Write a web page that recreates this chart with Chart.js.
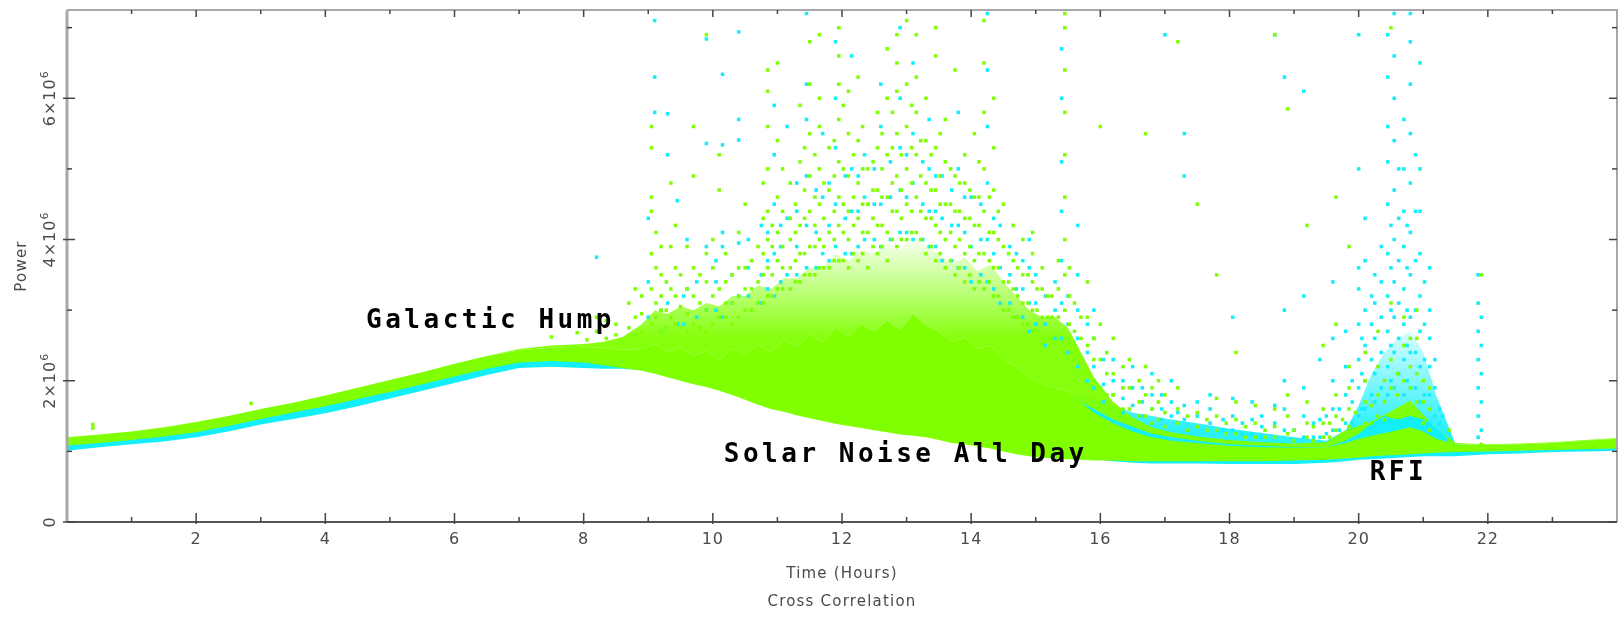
<!DOCTYPE html>
<html>
<head>
<meta charset="utf-8">
<script src="https://cdn.jsdelivr.net/npm/chart.js@4.4.1/dist/chart.umd.min.js"></script>
<style>
  body { margin: 0; background: #fff; }
  canvas { display: block; }
</style>
</head>
<body>
<canvas id="powerChart" width="1623" height="617"></canvas>
<script>
// Power values are in units of 10^6
const bandHours = [0, 0.5, 1, 1.5, 2, 2.5, 3, 3.5, 4, 4.5, 5, 5.5, 6, 6.5, 7, 7.5, 8, 8.3, 8.6, 8.9,
  9.1, 9.3, 9.5, 9.7, 9.9, 10.1, 10.3, 10.5, 10.7, 10.9, 11.1, 11.3, 11.5, 11.7, 11.9, 12.1, 12.3, 12.5, 12.7, 12.9,
  13.1, 13.3, 13.5, 13.7, 13.9, 14.1, 14.3, 14.5, 14.7, 14.9, 15.1, 15.3, 15.5, 15.7, 15.9, 16.2, 16.5, 16.8, 17.1, 17.5,
  18, 18.5, 19, 19.5, 19.8, 20, 20.2, 20.4, 20.6, 20.8, 21, 21.2, 21.5, 22, 22.5, 23, 23.5, 24];

const greenLow = [1.085, 1.12, 1.16, 1.21, 1.27, 1.36, 1.46, 1.55, 1.64, 1.74, 1.84, 1.95, 2.06, 2.17, 2.26, 2.28, 2.26, 2.22, 2.18, 2.14,
  2.10, 2.05, 2.00, 1.95, 1.91, 1.86, 1.80, 1.73, 1.66, 1.60, 1.56, 1.51, 1.47, 1.43, 1.39, 1.36, 1.33, 1.30, 1.27, 1.24,
  1.22, 1.20, 1.16, 1.12, 1.10, 1.07, 1.04, 1.00, 0.96, 0.93, 0.91, 0.90, 0.89, 0.88, 0.87, 0.87, 0.86, 0.86, 0.86, 0.86,
  0.86, 0.86, 0.87, 0.88, 0.90, 0.91, 0.93, 0.94, 0.95, 0.96, 0.97, 0.98, 0.99, 1.00, 1.01, 1.02, 1.03, 1.04];
const greenHigh = [1.20, 1.24, 1.28, 1.34, 1.415, 1.50, 1.60, 1.69, 1.79, 1.90, 2.01, 2.12, 2.24, 2.35, 2.43, 2.47, 2.48, 2.46, 2.44, 2.45,
  2.52, 2.40, 2.48, 2.35, 2.42, 2.30, 2.45, 2.38, 2.52, 2.40, 2.60, 2.48, 2.66, 2.55, 2.75, 2.62, 2.80, 2.70, 2.85, 2.72,
  2.95, 2.78, 2.70, 2.55, 2.62, 2.45, 2.50, 2.30, 2.20, 2.05, 1.95, 1.90, 1.85, 1.70, 1.55, 1.40, 1.28, 1.20, 1.15, 1.12,
  1.08, 1.06, 1.05, 1.06, 1.12, 1.18, 1.22, 1.26, 1.30, 1.34, 1.28, 1.18, 1.10, 1.09, 1.10, 1.12, 1.15, 1.18];
const greenHaze = [1.20, 1.24, 1.28, 1.34, 1.415, 1.50, 1.60, 1.69, 1.79, 1.90, 2.01, 2.12, 2.24, 2.35, 2.45, 2.50, 2.52, 2.55, 2.62, 2.80,
  3.00, 2.95, 3.05, 3.00, 3.10, 3.05, 3.20, 3.20, 3.35, 3.30, 3.45, 3.45, 3.60, 3.60, 3.80, 3.70, 3.85, 3.80, 3.95, 3.85,
  4.10, 3.90, 3.80, 3.65, 3.75, 3.55, 3.65, 3.40, 3.20, 3.00, 2.90, 2.90, 2.75, 2.40, 2.05, 1.70, 1.48, 1.34, 1.27, 1.21,
  1.16, 1.13, 1.11, 1.13, 1.30, 1.36, 1.42, 1.52, 1.62, 1.72, 1.52, 1.32, 1.12, 1.10, 1.11, 1.13, 1.16, 1.19];

const cyanLow = [1.01, 1.06, 1.10, 1.14, 1.20, 1.28, 1.38, 1.46, 1.54, 1.64, 1.75, 1.86, 1.97, 2.08, 2.18, 2.20, 2.18, 2.17, 2.17, 2.15,
  2.12, 2.07, 2.02, 1.97, 1.93, 1.88, 1.82, 1.75, 1.68, 1.62, 1.58, 1.53, 1.49, 1.45, 1.41, 1.38, 1.35, 1.32, 1.29, 1.26,
  1.24, 1.22, 1.18, 1.14, 1.12, 1.09, 1.06, 1.02, 0.98, 0.95, 0.93, 0.92, 0.91, 0.90, 0.89, 0.86, 0.84, 0.83, 0.83, 0.83,
  0.82, 0.82, 0.82, 0.84, 0.86, 0.88, 0.89, 0.90, 0.91, 0.92, 0.93, 0.93, 0.93, 0.96, 0.97, 0.99, 1.00, 1.01];
const cyanHigh = [1.15, 1.19, 1.23, 1.29, 1.36, 1.45, 1.55, 1.64, 1.74, 1.85, 1.96, 2.07, 2.19, 2.30, 2.38, 2.42, 2.44, 2.42, 2.40, 2.40,
  2.45, 2.35, 2.40, 2.30, 2.35, 2.25, 2.40, 2.30, 2.45, 2.35, 2.55, 2.40, 2.60, 2.50, 2.70, 2.55, 2.75, 2.65, 2.80, 2.65,
  2.90, 2.70, 2.65, 2.50, 2.55, 2.40, 2.45, 2.25, 2.15, 2.00, 1.90, 1.85, 1.80, 1.70, 1.60, 1.45, 1.35, 1.25, 1.20, 1.15,
  1.10, 1.08, 1.06, 1.06, 1.15, 1.25, 1.40, 1.50, 1.45, 1.50, 1.45, 1.35, 1.06, 1.06, 1.07, 1.09, 1.12, 1.15];
const cyanHaze = [1.15, 1.19, 1.23, 1.29, 1.36, 1.45, 1.55, 1.64, 1.74, 1.85, 1.96, 2.07, 2.19, 2.30, 2.38, 2.42, 2.44, 2.42, 2.40, 2.40,
  2.45, 2.35, 2.40, 2.30, 2.35, 2.25, 2.40, 2.30, 2.45, 2.35, 2.55, 2.40, 2.60, 2.50, 2.70, 2.55, 2.75, 2.65, 2.80, 2.65,
  2.90, 2.70, 2.65, 2.50, 2.55, 2.40, 2.45, 2.25, 2.15, 2.00, 1.90, 1.85, 1.80, 1.80, 1.75, 1.65, 1.55, 1.50, 1.45, 1.40,
  1.32, 1.26, 1.20, 1.15, 1.30, 1.65, 2.10, 2.40, 2.60, 2.70, 2.40, 1.80, 1.10, 1.06, 1.07, 1.09, 1.12, 1.15];

// scattered spikes: [hour, [power values]]
const greenSpikes = [
  [0.4, [1.33, 1.38]], [2.85, [1.68]], [7.5, [2.62]], [7.9, [2.68]], [8.05, [2.58]],
  [8.2, [2.7, 2.9]], [8.35, [2.6, 2.85]], [8.5, [2.65, 2.8]], [8.7, [2.75, 3.1]], [8.8, [2.65, 2.9, 3.3]], [8.9, [2.7, 2.95, 3.2]],
  [9.05, [2.8, 3.3, 3.8, 4.4, 4.6, 5.3, 5.6]], [9.12, [2.9, 3.1, 3.6, 4.1]], [9.2, [2.7, 3.0, 3.2, 3.5, 3.9]],
  [9.28, [2.75, 3.0, 3.4]], [9.35, [2.9, 3.3, 3.9, 4.8]], [9.42, [2.8, 3.2, 3.6, 4.2]],
  [9.5, [2.75, 3.05, 3.5]], [9.6, [2.7, 2.95, 3.3, 3.9]], [9.7, [2.8, 3.2, 3.6, 4.9, 5.6]], [9.8, [2.75, 3.1, 3.5]],
  [9.9, [2.7, 3.0, 3.4, 3.8, 6.9]], [10.0, [2.8, 3.2, 3.6, 4.0]],
  [10.1, [2.9, 3.3, 4.7, 5.2]], [10.2, [2.9, 3.1, 3.4, 3.8]], [10.3, [2.8, 3.1, 3.5]], [10.4, [2.9, 3.2, 3.6, 4.1]],
  [10.5, [3.0, 3.3, 3.6, 4.5]], [10.6, [3.0, 3.3, 3.7]], [10.7, [3.1, 3.4, 3.9]], [10.78, [3.1, 3.5, 3.8, 4.3, 4.8]],
  [10.85, [3.2, 3.6, 4.0, 4.4, 5.0, 5.6, 6.1, 6.4]], [10.92, [3.2, 3.5, 3.9, 4.2]], [11.0, [3.3, 3.7, 4.1, 4.6, 5.4, 6.5]],
  [11.08, [3.3, 3.6, 3.9, 4.4, 5.0]], [11.2, [3.3, 3.6, 4.0, 4.3, 4.8]], [11.28, [3.4, 3.7, 4.1, 4.5]],
  [11.35, [3.4, 3.8, 4.2, 5.1, 5.9]], [11.42, [3.5, 3.8, 4.3, 4.7, 5.3]],
  [11.5, [3.5, 3.9, 4.4, 4.9, 5.5, 6.2, 6.8]], [11.58, [3.5, 3.9, 4.2, 4.6, 5.2]],
  [11.65, [3.6, 4.0, 4.5, 5.0, 5.6, 6.0, 6.9]], [11.72, [3.6, 3.9, 4.3, 4.8]],
  [11.8, [3.6, 4.1, 4.7, 5.3]], [11.88, [3.7, 4.0, 4.4, 4.9, 5.4]], [11.95, [3.7, 4.2, 4.6, 5.1, 5.7, 6.2, 6.6, 7.0]],
  [12.02, [3.7, 4.1, 4.5, 5.0, 5.9]], [12.1, [3.6, 4.0, 4.4, 4.9, 5.5, 6.1]], [12.18, [3.8, 4.2, 4.6, 5.2]],
  [12.25, [3.7, 4.3, 4.8, 5.4, 6.3]], [12.32, [3.8, 4.1, 4.5, 5.0, 5.6]], [12.4, [3.6, 4.1, 4.5, 5.0]],
  [12.48, [3.9, 4.3, 4.7, 5.1]], [12.55, [3.8, 4.2, 4.7, 5.3, 5.8]], [12.62, [3.9, 4.2, 4.6, 5.0, 5.5]],
  [12.7, [3.7, 4.1, 4.6, 5.2, 6.0, 6.7]], [12.78, [4.0, 4.4, 4.8, 5.3, 5.8]],
  [12.85, [3.9, 4.4, 4.9, 5.5, 6.1, 6.5, 6.9]], [12.92, [4.0, 4.3, 4.7, 5.2]], [13.0, [4.0, 4.5, 5.0, 5.6, 6.2, 7.1]],
  [13.08, [4.1, 4.4, 4.8, 5.3, 5.9]], [13.15, [4.1, 4.6, 5.2, 5.8, 6.3, 6.9]], [13.22, [4.0, 4.4, 4.9, 5.4]],
  [13.3, [3.8, 4.3, 4.8, 5.4, 6.0]], [13.38, [3.9, 4.3, 4.7, 5.2]],
  [13.45, [3.7, 4.2, 4.7, 5.3, 6.6, 7.0]], [13.52, [3.8, 4.1, 4.5, 4.9, 5.5]], [13.6, [3.6, 4.0, 4.5, 5.1, 5.7]],
  [13.68, [3.7, 4.1, 4.5, 5.0]], [13.75, [3.5, 3.9, 4.4, 4.9, 6.4]], [13.82, [3.6, 4.0, 4.4, 4.8]],
  [13.9, [3.4, 3.8, 4.3, 4.8, 5.2]], [13.98, [3.5, 3.9, 4.3, 4.7]], [14.05, [3.3, 3.7, 4.2, 4.6, 5.5]],
  [14.12, [3.4, 3.8, 4.2, 4.6, 5.1]], [14.2, [3.3, 3.8, 4.4, 5.0, 5.8, 6.5, 7.1]], [14.28, [3.4, 3.7, 4.1, 4.6]],
  [14.35, [3.2, 3.6, 4.1, 4.7, 5.3, 6.0]], [14.42, [3.2, 3.6, 4.0, 4.4]],
  [14.5, [3.0, 3.4, 3.9, 4.5]], [14.58, [3.0, 3.4, 3.8]], [14.65, [2.9, 3.3, 3.7, 4.2]], [14.72, [2.9, 3.2, 3.6]],
  [14.8, [2.8, 3.1, 3.5, 4.0]], [14.88, [2.8, 3.1, 3.5]], [14.95, [2.7, 3.0, 3.4, 3.8, 4.1]], [15.02, [2.7, 3.0, 3.3]],
  [15.1, [2.6, 2.9, 3.3, 3.6]], [15.18, [2.6, 2.9, 3.2]], [15.25, [2.6, 2.9, 3.2]], [15.35, [2.6, 2.9, 3.3, 3.7]],
  [15.45, [2.6, 3.0, 3.5, 4.0, 4.6, 5.2, 5.8, 6.4, 7.0, 7.2]], [15.52, [2.5, 2.8, 3.2, 3.6]], [15.6, [2.3, 2.7, 3.1]],
  [15.7, [2.3, 2.6, 2.9]], [15.8, [2.1, 2.5, 2.9, 3.4]], [15.9, [2.0, 2.3, 2.6]], [16.0, [1.9, 2.3, 2.8, 5.6]],
  [16.1, [1.8, 2.1, 2.4]], [16.2, [1.8, 2.1, 2.6]], [16.35, [1.6, 1.9, 2.2]], [16.45, [1.6, 1.9, 2.3]],
  [16.6, [1.5, 1.7, 2.0]], [16.7, [1.5, 1.8, 2.2, 5.5]], [16.8, [1.4, 1.6, 1.9]], [16.9, [1.45, 1.7, 2.0]],
  [17.0, [1.35, 1.55, 1.8]], [17.2, [1.4, 1.6, 1.9, 6.8]], [17.35, [1.3, 1.5]], [17.5, [1.35, 1.55, 4.5]],
  [17.65, [1.3, 1.45]], [17.8, [1.3, 1.5, 1.75, 3.5]], [17.95, [1.25, 1.4]], [18.1, [1.25, 1.45, 1.7, 2.4]],
  [18.25, [1.2, 1.35]], [18.4, [1.2, 1.4, 1.65]], [18.55, [1.2, 1.3]],
  [18.7, [1.2, 1.35, 1.6, 6.9]], [18.9, [1.25, 1.5, 1.8, 5.85]], [19.0, [1.15, 1.3]], [19.2, [1.2, 1.4, 1.7, 4.2]],
  [19.3, [1.15, 1.35]], [19.45, [1.2, 1.4, 1.6, 2.5]], [19.55, [1.2, 1.4]], [19.65, [1.3, 1.5, 1.8, 2.8, 4.6]],
  [19.75, [1.25, 1.45]], [19.85, [1.35, 1.6, 1.9, 2.2, 3.9]], [19.95, [1.3, 1.55]],
  [20.1, [1.4, 1.7, 2.0, 2.4]], [20.2, [1.4, 1.65]], [20.3, [1.5, 1.8, 2.2, 2.7]], [20.4, [1.45, 1.7, 2.0]],
  [20.5, [1.5, 1.9, 2.3, 3.1, 7.0]], [20.6, [1.5, 1.8, 2.1]], [20.7, [1.6, 2.0, 2.5, 2.9]],
  [20.8, [1.6, 1.9, 2.2, 2.6]], [20.9, [1.7, 2.1, 2.6, 3.0]], [21.0, [1.4, 1.7, 2.0]], [21.1, [1.3, 1.6, 1.9]],
  [21.4, [1.15, 1.3]], [21.9, [1.1, 3.5]]
];
const cyanSpikes = [
  [8.2, [3.75]], [9.0, [2.9, 3.4, 4.3]], [9.1, [5.8, 6.3, 7.1]], [9.2, [2.7, 3.0]], [9.3, [3.1, 5.2, 5.78]],
  [9.45, [2.8, 4.55]], [9.55, [2.8, 3.2]], [9.6, [3.3, 4.0]], [9.75, [2.9, 3.4]], [9.9, [3.0, 3.9, 5.36, 6.84]],
  [10.05, [3.0, 3.4, 3.7]], [10.15, [2.9, 3.9, 4.1, 5.34, 6.34]], [10.3, [3.1, 3.5]],
  [10.4, [3.2, 3.95, 5.41, 5.7, 6.94]], [10.55, [3.2, 3.6, 4.0]], [10.75, [3.1, 3.5, 4.2]], [10.85, [3.3, 3.7, 4.1]],
  [10.95, [3.2, 3.8, 4.5, 5.2, 5.9]], [11.05, [3.4, 3.9, 4.2]], [11.15, [3.5, 4.3, 5.6]], [11.3, [3.5, 3.9, 4.4, 4.8]],
  [11.45, [3.6, 4.2, 4.9, 5.7, 6.2, 7.2]], [11.6, [3.6, 4.1, 4.7]], [11.7, [3.8, 4.6, 5.5]], [11.8, [3.7, 4.2, 4.8]],
  [11.9, [3.9, 4.5, 5.3, 6.0, 6.8]], [12.05, [3.8, 4.3, 4.9]], [12.15, [3.8, 4.4, 5.0, 6.6]], [12.25, [3.9, 4.4, 4.9]],
  [12.35, [4.0, 4.6, 5.2]], [12.5, [4.0, 4.5, 5.0]], [12.6, [3.9, 4.5, 5.6, 6.2]], [12.75, [4.0, 4.6, 5.1]],
  [12.9, [4.1, 4.7, 5.3, 6.0, 7.0]], [13.0, [4.1, 4.6, 5.2]], [13.1, [4.0, 4.8, 5.5, 6.5]], [13.25, [4.0, 4.5, 5.1]],
  [13.35, [3.9, 4.4, 5.0, 5.7]], [13.45, [3.9, 4.4, 4.9]], [13.55, [3.7, 4.3, 4.9]], [13.7, [3.7, 4.2, 4.7]],
  [13.8, [3.6, 4.2, 5.0, 5.8]], [13.9, [3.6, 4.1, 4.6]], [14.0, [3.4, 3.9, 4.6]], [14.15, [3.5, 4.0, 4.5]],
  [14.25, [3.4, 4.0, 4.8, 5.6, 6.4, 7.2]], [14.35, [3.3, 3.8, 4.3]], [14.45, [3.1, 3.6, 4.2]], [14.6, [3.1, 3.5, 3.9]],
  [14.7, [2.9, 3.3, 3.8]], [14.8, [2.9, 3.3, 3.7]], [14.9, [2.7, 3.1, 3.6, 4.0]], [15.0, [2.8, 3.1, 3.5]],
  [15.15, [2.5, 2.8, 3.2]], [15.3, [2.6, 3.0, 3.4]], [15.4, [2.6, 3.1, 3.7, 4.4, 5.1, 6.0, 6.7]], [15.5, [2.4, 2.8, 3.2]],
  [15.65, [2.2, 2.6, 3.0, 3.5, 4.2]], [15.8, [2.0, 2.4, 2.8]], [15.9, [1.9, 2.2, 2.6, 3.0]], [16.05, [1.7, 1.95, 2.3]],
  [16.2, [1.8, 2.0, 2.3]], [16.35, [1.55, 1.75, 2.0]], [16.5, [1.65, 1.9, 2.2]], [16.65, [1.5, 1.7, 1.9]],
  [16.8, [1.6, 1.8, 2.1]], [16.95, [1.45, 1.6, 1.8]], [17.0, [6.9]], [17.1, [1.5, 1.7, 2.0]], [17.2, [1.4, 1.55]],
  [17.3, [1.45, 1.65, 4.9, 5.5]], [17.5, [1.35, 1.5, 1.7]], [17.7, [1.4, 1.6, 1.8]], [17.9, [1.3, 1.45]],
  [18.05, [1.3, 1.5, 1.75, 2.9]], [18.2, [1.25, 1.4]], [18.35, [1.25, 1.45, 1.7]], [18.5, [1.2, 1.35, 1.5]],
  [18.7, [1.2, 1.4, 1.65, 6.9]], [18.85, [1.3, 1.6, 2.0, 3.0, 6.3]], [19.0, [1.15, 1.3]],
  [19.15, [1.2, 1.5, 1.9, 3.2, 6.1]], [19.3, [1.2, 1.4]], [19.4, [1.2, 1.45, 2.3]], [19.5, [1.25, 1.5]],
  [19.6, [1.3, 1.6, 2.0, 2.6, 3.4]], [19.7, [1.3, 1.6]], [19.8, [1.4, 1.8, 2.2, 2.7]], [19.9, [1.4, 1.7, 2.0]],
  [20.0, [1.5, 1.9, 2.3, 2.8, 3.3, 3.6, 5.0, 6.9]], [20.05, [1.6, 2.1, 2.6]],
  [20.1, [1.6, 2.0, 2.5, 3.0, 3.7, 4.3]], [20.2, [1.8, 2.3, 2.8, 3.2]], [20.25, [1.7, 2.1, 2.6, 3.1, 3.5]],
  [20.35, [1.9, 2.4, 2.9, 3.4, 3.9]], [20.45, [1.8, 2.2, 2.7, 3.2, 3.8, 4.5, 5.1, 5.6, 6.3, 6.9]],
  [20.5, [2.0, 2.5, 3.0, 3.6, 4.2]], [20.55, [1.9, 2.4, 2.9, 3.4, 4.0, 4.7, 5.4, 6.0, 6.6, 7.2]],
  [20.62, [2.1, 2.6, 3.1, 3.7, 4.3, 5.0]], [20.7, [1.8, 2.3, 2.8, 3.3, 3.9, 4.4, 5.0, 5.7]],
  [20.75, [2.0, 2.5, 3.0, 3.6, 4.2]], [20.8, [1.9, 2.4, 2.9, 3.5, 4.1, 4.8, 5.5, 6.2, 6.8, 7.2]],
  [20.88, [1.9, 2.4, 3.0, 3.7, 4.4, 5.2]], [20.95, [1.7, 2.2, 2.7, 3.2, 3.8, 4.4, 5.0, 6.5]],
  [21.02, [1.8, 2.3, 2.8, 3.4]], [21.1, [1.4, 1.8, 2.2, 2.6, 3.0, 3.6]], [21.18, [1.5, 1.9, 2.3]],
  [21.25, [1.2, 1.4, 1.6]], [21.3, [1.2, 1.5]], [21.85, [1.2, 1.5, 1.9, 2.3, 2.7, 3.1, 3.5]],
  [21.9, [1.3, 1.7, 2.1, 2.5, 2.9]]
];

const xTicks = [2, 4, 6, 8, 10, 12, 14, 16, 18, 20, 22];
const xMinorTicks = [1, 3, 5, 7, 9, 11, 13, 15, 17, 19, 21, 23];
const yTicks = [0, 2, 4, 6];
const yMinorTicks = [1, 3, 5, 7];
const yTickLabels = ['0', '2×10', '4×10', '6×10'];
const yTickExponents = ['', '6', '6', '6'];
const notes = [
  { text: 'Galactic Hump', hour: 4.63, power: 2.745 },
  { text: 'Solar Noise All Day', hour: 10.17, power: 0.853 },
  { text: 'RFI', hour: 20.17, power: 0.594 }
];

const GREEN = '#7fff00';
const CYAN = '#12eefa';

const toPoints = ys => bandHours.map((h, i) => ({ x: h, y: ys[i] }));
const spikePoints = cols => cols.flatMap(([h, vs]) => vs.map(v => ({ x: h, y: v })));

// vertical fade for the dense part of each cloud
function hazeFill(rgb, solidVal, clearVal, alpha) {
  return ctx => {
    const chart = ctx.chart;
    if (!chart.chartArea) return 'rgba(' + rgb + ',0.5)';
    const y = chart.scales.y;
    const g = chart.ctx.createLinearGradient(0, y.getPixelForValue(solidVal), 0, y.getPixelForValue(clearVal));
    g.addColorStop(0, 'rgba(' + rgb + ',' + alpha + ')');
    g.addColorStop(1, 'rgba(' + rgb + ',0)');
    return g;
  };
}

const edge = { type: 'line', borderColor: 'rgba(0,0,0,0)', borderWidth: 1, pointRadius: 0, tension: 0 };
const dots = { type: 'scatter', pointStyle: 'rect', pointRadius: 2.5, pointBorderWidth: 0 };

const datasets = [
  { ...edge, data: toPoints(cyanLow), fill: false, order: 20 },
  { ...edge, data: toPoints(cyanHigh), fill: '-1', backgroundColor: CYAN, order: 8 },
  { ...edge, data: toPoints(cyanHaze), fill: '-1', backgroundColor: hazeFill('18,238,250', 1.3, 3.0, 0.9), order: 10 },
  { ...edge, data: toPoints(greenLow), fill: false, order: 20 },
  { ...edge, data: toPoints(greenHigh), fill: '-1', backgroundColor: GREEN, order: 7 },
  { ...edge, data: toPoints(greenHaze), fill: '-1', backgroundColor: hazeFill('127,255,0', 2.6, 4.1, 0.95), order: 9 },
  { ...dots, data: spikePoints(cyanSpikes), backgroundColor: CYAN, order: 6 },
  { ...dots, data: spikePoints(greenSpikes), backgroundColor: GREEN, order: 5 }
];

// frame, inward ticks, labels and notes
const framePlugin = {
  id: 'frame',
  afterDraw(chart) {
    const { ctx, chartArea: a, scales: { x, y } } = chart;
    ctx.save();
    ctx.strokeStyle = '#a8a8a8';
    ctx.lineWidth = 2;
    ctx.beginPath();
    ctx.moveTo(a.left, a.top); ctx.lineTo(a.right, a.top); ctx.lineTo(a.right, a.bottom);
    ctx.stroke();
    ctx.lineWidth = 3;
    ctx.beginPath(); ctx.moveTo(a.left, a.top); ctx.lineTo(a.left, a.bottom); ctx.stroke();
    ctx.strokeStyle = '#555';
    ctx.lineWidth = 2;
    ctx.beginPath(); ctx.moveTo(a.left, a.bottom); ctx.lineTo(a.right, a.bottom); ctx.stroke();

    ctx.strokeStyle = '#444';
    ctx.lineWidth = 1.5;
    const tick = (x1, y1, x2, y2) => { ctx.beginPath(); ctx.moveTo(x1, y1); ctx.lineTo(x2, y2); ctx.stroke(); };
    xTicks.forEach(h => { const px = x.getPixelForValue(h); tick(px, a.bottom + 2, px, a.bottom - 9); tick(px, a.top, px, a.top + 7); });
    xMinorTicks.forEach(h => { const px = x.getPixelForValue(h); tick(px, a.bottom, px, a.bottom - 5); tick(px, a.top, px, a.top + 4); });
    yTicks.forEach(v => { const py = y.getPixelForValue(v); tick(a.left - 4, py, a.left + 8, py); tick(a.right, py, a.right - 8, py); });
    yMinorTicks.forEach(v => { const py = y.getPixelForValue(v); tick(a.left, py, a.left + 5, py); tick(a.right, py, a.right - 5, py); });

    ctx.fillStyle = '#4a4a4a';
    ctx.font = '16px "DejaVu Sans"';
    ctx.letterSpacing = '1px';
    ctx.textAlign = 'center';
    ctx.textBaseline = 'top';
    xTicks.forEach(h => ctx.fillText(String(h), x.getPixelForValue(h), a.bottom + 10));

    ctx.textBaseline = 'alphabetic';
    ctx.textAlign = 'left';
    yTicks.forEach((v, i) => {
      ctx.save();
      ctx.translate(a.left - 12, y.getPixelForValue(v));
      ctx.rotate(-Math.PI / 2);
      ctx.font = '16px "DejaVu Sans"';
      const wb = ctx.measureText(yTickLabels[i]).width;
      ctx.font = '11px "DejaVu Sans"';
      const we = yTickExponents[i] ? ctx.measureText(yTickExponents[i]).width : 0;
      const start = -(wb + we) / 2;
      ctx.font = '16px "DejaVu Sans"';
      ctx.fillText(yTickLabels[i], start, 0);
      ctx.font = '11px "DejaVu Sans"';
      ctx.fillText(yTickExponents[i], start + wb, -7);
      ctx.restore();
    });

    ctx.textAlign = 'center';
    ctx.font = '15px "DejaVu Sans"';
    ctx.letterSpacing = '1.2px';
    const cx = (a.left + a.right) / 2;
    ctx.fillText('Time (Hours)', cx, 578);
    ctx.fillText('Cross Correlation', cx, 606);
    ctx.save();
    ctx.translate(26, (a.top + a.bottom) / 2);
    ctx.rotate(-Math.PI / 2);
    ctx.fillText('Power', 0, 0);
    ctx.restore();

    ctx.fillStyle = '#000';
    ctx.font = 'bold 26px "DejaVu Sans Mono"';
    ctx.letterSpacing = '3.5px';
    ctx.textAlign = 'left';
    notes.forEach(n => ctx.fillText(n.text, x.getPixelForValue(n.hour), y.getPixelForValue(n.power)));
    ctx.restore();
  }
};

new Chart(document.getElementById('powerChart').getContext('2d'), {
  type: 'scatter',
  data: { datasets },
  options: {
    responsive: false,
    animation: false,
    layout: { padding: { top: 10, right: 6, left: 0, bottom: 0 } },
    plugins: { legend: { display: false }, tooltip: { enabled: false } },
    scales: {
      x: {
        type: 'linear', min: 0, max: 24,
        ticks: { display: false }, grid: { display: false }, border: { display: false },
        afterFit: s => { s.height = 95; }
      },
      y: {
        type: 'linear', min: 0, max: 7.25,
        ticks: { display: false }, grid: { display: false }, border: { display: false },
        afterFit: s => { s.width = 67; }
      }
    }
  },
  plugins: [framePlugin]
});
</script>
</body>
</html>
